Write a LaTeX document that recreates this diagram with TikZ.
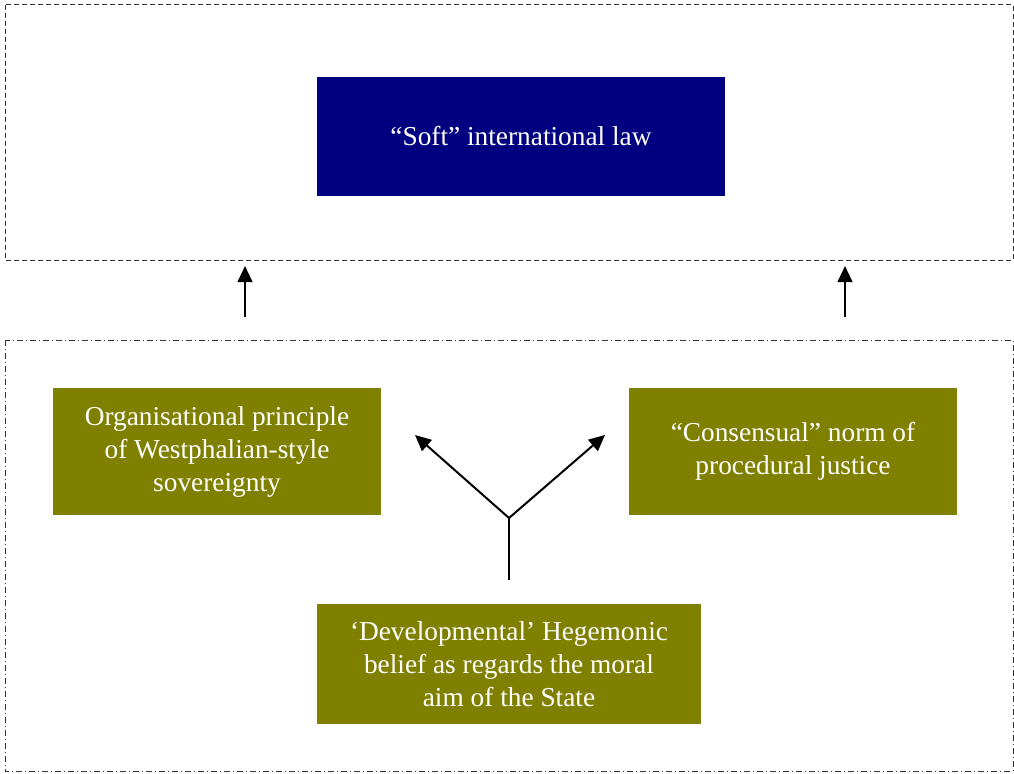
\documentclass[tikz,border=0pt]{standalone}
\usepackage{fontspec}
\setmainfont{Liberation Serif}
\usetikzlibrary{positioning,arrows.meta}
\definecolor{lawblue}{RGB}{0,0,128}
\definecolor{normolive}{RGB}{128,128,0}

\begin{document}
\begin{tikzpicture}
            [x=0.75pt, y=-0.75pt,
            font=\fontsize{20.5}{24.75}\selectfont,
            textbox/.style={fill=normolive, text=white, align=center,
            minimum width=246pt, minimum height=95.25pt, inner sep=0pt},
            upper/.style={draw=black!80, line width=0.75pt,
            dash pattern=on 3.75pt off 2.25pt},
            lower/.style={draw=black!80, line width=0.75pt,
            dash pattern=on 4.5pt off 2.25pt on 0.75pt off 2.25pt},
            link/.style={draw=black, line width=1.5pt,
            -{Triangle[length=12pt,width=11pt]}}]
            \useasboundingbox (0,0) rectangle (1014,774);
            % the two frames
            \draw[upper] (5,5) rectangle (1013,260);
            \draw[lower] (5,340) rectangle (1013,771);
            % boxes
            \node[fill=lawblue, text=white, minimum width=306pt,
                minimum height=89.25pt, inner sep=0pt] (soft) at (521,136.5)
                {``Soft'' international law};
            \node[textbox] (westph) at (217,451.5)
                {Organisational principle\\of Westphalian-style\\sovereignty};
            \node[textbox] (consens) at (793,451.5)
                {``Consensual'' norm of\\procedural justice};
            \node[textbox, minimum width=288pt, minimum height=90pt] (belief) at (509,664)
                {`Developmental' Hegemonic\\belief as regards the moral\\aim of the State};
            % arrows
            \coordinate (fork) at (509,518);
            \coordinate (stem) at (509,580);
            \coordinate (lfoot) at (245,317);
            \coordinate (rfoot) at (845,317);
            \draw[link] (lfoot) -- (245,266);
            \draw[link] (rfoot) -- (845,266);
            \draw[line width=1.5pt] (stem) -- (fork);
            \draw[link] (fork) -- (415,435);
            \draw[link] (fork) -- (605,435);
\end{tikzpicture}
\end{document}
